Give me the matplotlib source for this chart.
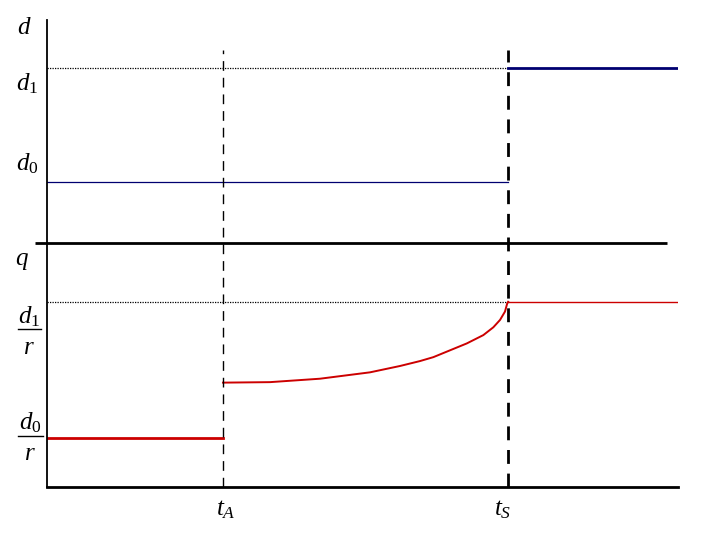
import matplotlib
matplotlib.use("Agg")
import matplotlib.pyplot as plt
from matplotlib.lines import Line2D

plt.rcParams['mathtext.fontset'] = 'custom'
plt.rcParams['mathtext.rm'] = 'Liberation Serif'
plt.rcParams['mathtext.it'] = 'Liberation Serif:italic'
plt.rcParams['font.family'] = 'Liberation Serif'

# time marks
t_A = 1.0
t_S = 2.62
t_end = 3.585

# top panel: d levels
d0 = 1.0
d1 = 2.87

# bottom panel: q levels (d/r)
q0 = 1.0
q1 = 3.78
# q between t_A and t_S
curve_t = [1.0, 1.267, 1.551, 1.835, 2.006, 2.119, 2.195, 2.385, 2.479,
           2.536, 2.574, 2.602, 2.615, 2.62]
curve_q = [2.13, 2.14, 2.21, 2.34, 2.47, 2.57, 2.65, 2.93, 3.10,
           3.26, 3.41, 3.58, 3.75, 3.78]

navy = '#000070'
red = '#cc0000'

W, H = 720, 540
fig = plt.figure(figsize=(7.2, 5.4), dpi=100)

def px_box(x0, y0, x1, y1):
    return [x0 / W, 1 - y1 / H, (x1 - x0) / W, (y1 - y0) / H]

ax_d = fig.add_axes(px_box(47, 20, 678, 243))
ax_q = fig.add_axes(px_box(47, 243, 678, 487))

ax_d.set_xlim(0, t_end)
ax_q.set_xlim(0, t_end)
ax_d.set_ylim(0, 223 / 61)
ax_q.set_ylim(0, 244 / 49)

for ax in (ax_d, ax_q):
    ax.patch.set_visible(False)
    ax.set_xticks([])
    ax.set_yticks([])
    for s in ('top', 'right'):
        ax.spines[s].set_visible(False)
    ax.spines['left'].set_linewidth(1.3)
ax_d.spines['bottom'].set_visible(False)
ax_q.spines['bottom'].set_linewidth(2)

# separator between the two panels
ax_d.plot([-12 / 176, 3.523], [0, 0], color='black', lw=2, clip_on=False,
          solid_capstyle='butt')

# top panel lines
ax_d.plot([0, t_S], [d1, d1], color='black', lw=0.9, ls=(0, (1, 1)))
ax_d.plot([0, t_S], [d0, d0], color=navy, lw=0.9)
ax_d.plot([t_S, t_end], [d1, d1], color=navy, lw=2)

# bottom panel lines
ax_q.plot([0, t_S], [q1, q1], color='black', lw=0.9, ls=(0, (1, 1)))
ax_q.plot([0, t_A], [q0, q0], color=red, lw=2)
ax_q.plot(curve_t, curve_q, color=red, lw=1.4)
ax_q.plot([t_S, t_end], [q1, q1], color=red, lw=1)

# dashed verticals through both panels
top_q = (487 - 50) / 49
ax_q.plot([t_A, t_A], [0, top_q], color='black', lw=1, ls=(0, (7, 5)), clip_on=False)
ax_q.plot([t_S, t_S], [0, top_q], color='black', lw=2, ls=(0, (5, 3.5)), clip_on=False)

def label(x, y, s, size=18):
    fig.text(x / W, 1 - y / H, s, ha='center', va='center', fontsize=size)

def frac(x, y_num, y_bar, y_den, x0, x1, num):
    label(x, y_num, num)
    label(x, y_den, r'$r$')
    fig.add_artist(Line2D([x0 / W, x1 / W], [1 - y_bar / H, 1 - y_bar / H],
                          color='black', lw=1))

label(24, 28, r'$d$')
label(27, 84, r'$d_{1}$')
label(27, 164, r'$d_{0}$')
label(22, 261, r'$q$')
frac(29, 317, 329, 348, 18, 41, r'$d_{1}$')
frac(30, 423, 436, 454, 18, 43, r'$d_{0}$')
label(226, 510, r'$t_{A}$')
label(503, 510, r'$t_{S}$')

fig.savefig('out.png', dpi=100)
